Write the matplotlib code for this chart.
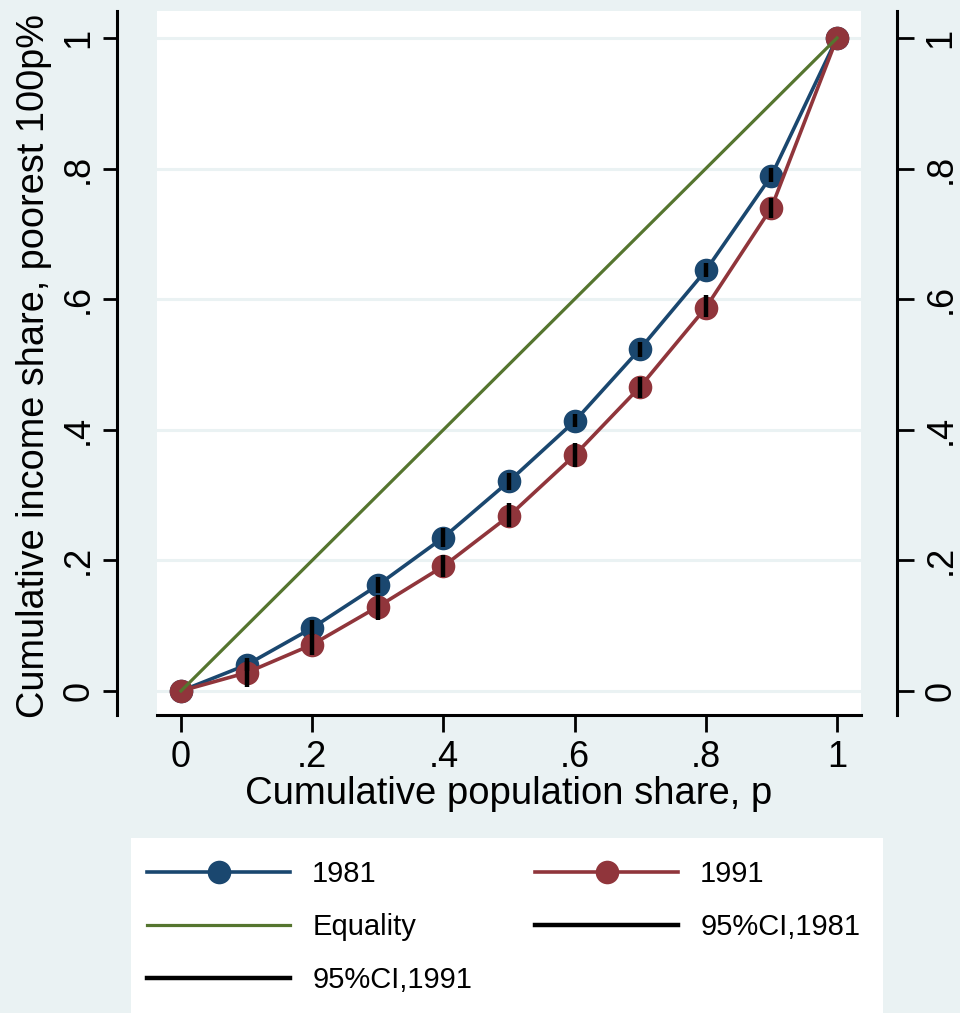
import matplotlib
matplotlib.use("Agg")
import matplotlib.pyplot as plt
from matplotlib.patches import Rectangle
from matplotlib.lines import Line2D

plt.rcParams['font.family'] = ['Liberation Sans', 'DejaVu Sans']

# ---- data ----
p = [0.0, 0.1, 0.2, 0.3, 0.4, 0.5, 0.6, 0.7, 0.8, 0.9, 1.0]
lorenz_1981 = [0.0, 0.040, 0.0965, 0.162, 0.235, 0.321, 0.413, 0.524, 0.644, 0.789, 1.0]
lorenz_1991 = [0.0, 0.028, 0.071, 0.129, 0.191, 0.268, 0.361, 0.466, 0.587, 0.740, 1.0]
ci81_lo = [0.0, 0.031, 0.085, 0.150, 0.220, 0.308, 0.404, 0.511, 0.634, 0.779, 1.0]
ci81_hi = [0.0, 0.050, 0.109, 0.175, 0.250, 0.334, 0.424, 0.534, 0.655, 0.801, 1.0]
ci91_lo = [0.0, 0.006, 0.055, 0.109, 0.175, 0.251, 0.343, 0.449, 0.573, 0.724, 1.0]
ci91_hi = [0.0, 0.046, 0.088, 0.147, 0.208, 0.288, 0.380, 0.481, 0.606, 0.755, 1.0]
equality = [0.0, 1.0]
equality_x = [0.0, 1.0]
ticks = [0, 0.2, 0.4, 0.6, 0.8, 1.0]
tick_labels = ["0", ".2", ".4", ".6", ".8", "1"]
series_labels = ["1981", "1991", "Equality", "95%CI,1981", "95%CI,1991"]

BG = "#EAF2F3"
BLUE = "#1A476F"
RED = "#90353B"
GREEN = "#55752F"

W, H = 960, 1013
fig = plt.figure(figsize=(W / 100, H / 100), dpi=100, facecolor=BG)

ax_l, ax_r, ax_t, ax_b = 157, 861, 11, 715
ax = fig.add_axes([ax_l / W, 1 - ax_b / H, (ax_r - ax_l) / W, (ax_b - ax_t) / H])
ax.set_facecolor("white")

XLIM = (-0.0366, 1.0366)
YLIM = (-0.0368, 1.0413)
ax.set_xlim(*XLIM)
ax.set_ylim(*YLIM)

for t in ticks:
    ax.axhline(t, color=BG, lw=2.2, zorder=0)

l81, = ax.plot(p, lorenz_1981, color=BLUE, lw=2.6, marker="o", ms=17,
               markeredgewidth=0, zorder=3, label=series_labels[0])
l91, = ax.plot(p, lorenz_1991, color=RED, lw=2.6, marker="o", ms=17,
               markeredgewidth=0, zorder=4, label=series_labels[1])
leq, = ax.plot(equality_x, equality, color=GREEN, lw=2.3, zorder=5, label=series_labels[2])
ax.vlines(p, ci81_lo, ci81_hi, color="black", lw=3.2, zorder=6, capstyle="butt")
ax.vlines(p, ci91_lo, ci91_hi, color="black", lw=3.2, zorder=6, capstyle="butt")

# spines
for s in ["top", "right"]:
    ax.spines[s].set_visible(False)
for s in ["left", "bottom"]:
    ax.spines[s].set_linewidth(2.2)
    ax.spines[s].set_color("black")
ax.spines["left"].set_position(("outward", 40 * 0.72))

ax.set_xticks(ticks)
ax.set_xticklabels(tick_labels)
ax.set_yticks(ticks)
ax.set_yticklabels(tick_labels)
ax.tick_params(axis="x", length=12, width=2.0, labelsize=26, pad=6)
ax.tick_params(axis="y", length=10, width=2.0, labelsize=26, pad=5, labelrotation=90)
for lab in ax.get_yticklabels():
    lab.set_verticalalignment("center")

# right axis
ax2 = ax.twinx()
ax2.set_ylim(*YLIM)
for s in ["top", "left", "bottom"]:
    ax2.spines[s].set_visible(False)
ax2.spines["right"].set_linewidth(2.2)
ax2.spines["right"].set_color("black")
ax2.spines["right"].set_position(("outward", 36 * 0.72))
ax2.set_yticks(ticks)
ax2.set_yticklabels(tick_labels)
ax2.tick_params(axis="y", length=12, width=2.0, labelsize=26, pad=7, labelrotation=90)
for lab in ax2.get_yticklabels():
    lab.set_verticalalignment("center")

ax.set_xlabel("Cumulative population share, p", fontsize=27.5)
ax.xaxis.set_label_coords(0.5, (ax_b - 776) / (ax_b - ax_t))
ax.set_ylabel("Cumulative income share, poorest 100p%", fontsize=27.3)
ax.yaxis.set_label_coords((52 - ax_l) / (ax_r - ax_l), 0.496)

# legend box
fig.patches.append(Rectangle((131 / W, 0), (883 - 131) / W, 1 - 838 / H,
                             transform=fig.transFigure, facecolor="white",
                             edgecolor="none", zorder=0))
h_ci81 = Line2D([], [], color="black", lw=3.2)
h_ci91 = Line2D([], [], color="black", lw=3.2)
# order so that column-major filling yields row-major reading
handles = [l81, leq, h_ci91, l91, h_ci81]
labels = [series_labels[0], series_labels[2], series_labels[4], series_labels[1], series_labels[3]]
leg = fig.legend(handles, labels, ncol=2, loc="upper left",
                 bbox_to_anchor=(127 / W, 1 - 840 / H), frameon=False,
                 fontsize=21, handlelength=4.9, handletextpad=0.75,
                 columnspacing=2.17, labelspacing=0.85, borderpad=0.7,
                 borderaxespad=0.0, markerscale=1.0)

fig.savefig("out.png", dpi=100, facecolor=BG)
